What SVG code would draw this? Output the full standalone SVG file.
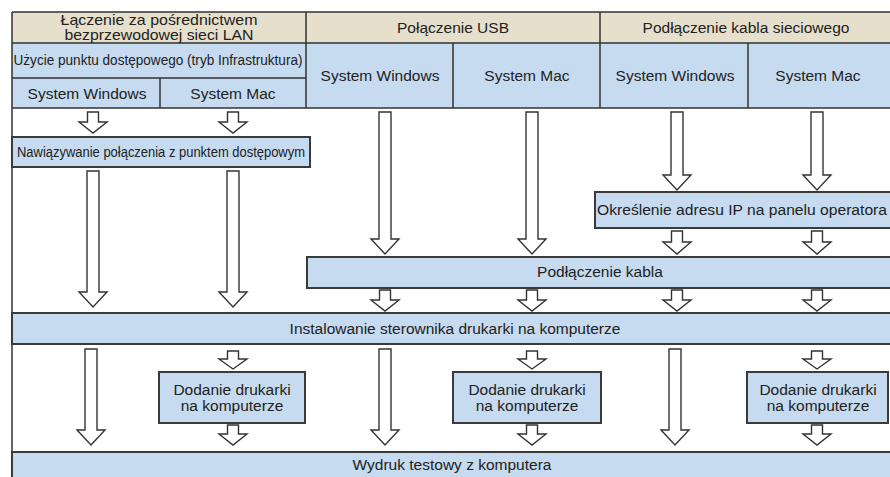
<svg xmlns="http://www.w3.org/2000/svg" width="890" height="477" viewBox="0 0 890 477">
<style>
text{font-family:"Liberation Sans",Arial,sans-serif;font-size:15.5px;fill:#222;text-anchor:middle}
.h2{font-size:14.5px}
.hd{fill:#e6dfcb}
.bl{fill:#c6daf0}
.ln{stroke:#333;stroke-width:1.5;fill:none}
.box{fill:#c6daf0;stroke:#3a3a3a;stroke-width:2}
.ar{fill:#fff;stroke:#333;stroke-width:1.4;stroke-linejoin:miter}
</style>
<rect width="890" height="477" fill="#fff"/>
<g id="table">
<rect class="hd" x="12" y="12" width="880" height="31"/>
<rect class="bl" x="12" y="43" width="880" height="65"/>
<path class="ln" d="M12,12 H892 M12,43 H892 M12,78 H306 M12,108 H892 M12,12 V477 M306,12 V108 M600,12 V108 M160,78 V108 M453,43 V108 M748,43 V108"/>
<text class="h2" x="159" y="25" textLength="197" lengthAdjust="spacingAndGlyphs">Łączenie za pośrednictwem</text>
<text class="h2" x="159" y="40" textLength="189" lengthAdjust="spacingAndGlyphs">bezprzewodowej sieci LAN</text>
<text x="453" y="33">Połączenie USB</text>
<text x="746" y="33">Podłączenie kabla sieciowego</text>
<text x="158" y="65" textLength="289" lengthAdjust="spacingAndGlyphs">Użycie punktu dostępowego (tryb Infrastruktura)</text>
<text x="87" y="99">System Windows</text>
<text x="233" y="99">System Mac</text>
<text x="380" y="81">System Windows</text>
<text x="527" y="81">System Mac</text>
<text x="675" y="81">System Windows</text>
<text x="818" y="81">System Mac</text>
</g>
<g id="n-nawiazywanie">
<rect class="box" x="12" y="137" width="298" height="30"/>
<text x="161" y="157" textLength="288" lengthAdjust="spacingAndGlyphs">Nawiązywanie połączenia z punktem dostępowym</text>
</g>
<g id="n-okreslenie">
<rect class="box" x="595" y="192" width="300" height="36"/>
<text x="742" y="215" textLength="290" lengthAdjust="spacingAndGlyphs">Określenie adresu IP na panelu operatora</text>
</g>
<g id="n-kabla">
<rect class="box" x="307" y="257" width="590" height="31"/>
<text x="600" y="277">Podłączenie kabla</text>
</g>
<g id="n-instalowanie">
<rect class="box" x="12" y="313" width="885" height="31"/>
<text x="455" y="334">Instalowanie sterownika drukarki na komputerze</text>
</g>
<g id="n-dodanie1">
<rect class="box" x="159" y="372" width="146" height="51"/>
<text x="232" y="395">Dodanie drukarki</text>
<text x="232" y="411">na komputerze</text>
</g>
<g id="n-dodanie2">
<rect class="box" x="453" y="372" width="148" height="51"/>
<text x="527" y="395">Dodanie drukarki</text>
<text x="527" y="411">na komputerze</text>
</g>
<g id="n-dodanie3">
<rect class="box" x="747" y="372" width="141" height="51"/>
<text x="818" y="395">Dodanie drukarki</text>
<text x="818" y="411">na komputerze</text>
</g>
<g id="n-wydruk">
<rect class="box" x="12" y="452" width="885" height="30"/>
<text x="452" y="470">Wydruk testowy z komputera</text>
</g>
<g id="connectors">
<path class="ar" d="M87.5,112 H98.5 V122 H107 L93,133 L79,122 H87.5 Z"/>
<path class="ar" d="M227.5,112 H238.5 V122 H247 L233,133 L219,122 H227.5 Z"/>
<path class="ar" d="M87,171 H99 V292 H107 L93,307 L79,292 H87 Z"/>
<path class="ar" d="M227,171 H239 V292 H247 L233,307 L219,292 H227 Z"/>
<path class="ar" d="M379,112 H391 V239 H399 L385,254 L371,239 H379 Z"/>
<path class="ar" d="M526,112 H538 V239 H546 L532,254 L518,239 H526 Z"/>
<path class="ar" d="M671,112 H683 V175 H691 L677,190 L663,175 H671 Z"/>
<path class="ar" d="M811,112 H823 V175 H831 L817,190 L803,175 H811 Z"/>
<path class="ar" d="M671.5,231 H682.5 V242 H691 L677,254 L663,242 H671.5 Z"/>
<path class="ar" d="M811.5,231 H822.5 V242 H831 L817,254 L803,242 H811.5 Z"/>
<path class="ar" d="M379.5,290 H390.5 V300 H399 L385,311 L371,300 H379.5 Z"/>
<path class="ar" d="M526.5,290 H537.5 V300 H546 L532,311 L518,300 H526.5 Z"/>
<path class="ar" d="M671.5,290 H682.5 V300 H691 L677,311 L663,300 H671.5 Z"/>
<path class="ar" d="M811.5,290 H822.5 V300 H831 L817,311 L803,300 H811.5 Z"/>
<path class="ar" d="M85,349 H97 V430 H105 L91,445 L77,430 H85 Z"/>
<path class="ar" d="M379,349 H391 V430 H399 L385,445 L371,430 H379 Z"/>
<path class="ar" d="M669,349 H681 V430 H689 L675,445 L661,430 H669 Z"/>
<path class="ar" d="M227.5,351 H238.5 V359 H247 L233,369 L219,359 H227.5 Z"/>
<path class="ar" d="M526.5,351 H537.5 V359 H546 L532,369 L518,359 H526.5 Z"/>
<path class="ar" d="M811.5,351 H822.5 V359 H831 L817,369 L803,359 H811.5 Z"/>
<path class="ar" d="M227.5,425 H238.5 V434 H247 L233,445 L219,434 H227.5 Z"/>
<path class="ar" d="M526.5,425 H537.5 V434 H546 L532,445 L518,434 H526.5 Z"/>
<path class="ar" d="M811.5,425 H822.5 V434 H831 L817,445 L803,434 H811.5 Z"/>
</g>
</svg>
